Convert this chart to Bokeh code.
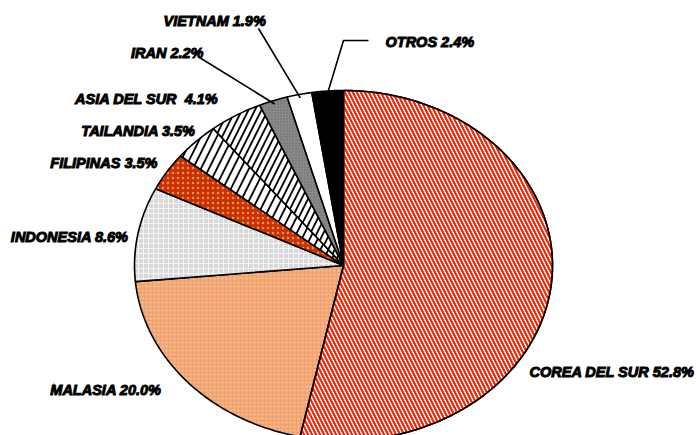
import math
from bokeh.plotting import figure
from bokeh.models import Range1d, ColumnDataSource
from bokeh.core.properties import value
from bokeh.embed import file_html
from bokeh.resources import INLINE

# ---- data ----
categories = ["COREA DEL SUR", "MALASIA", "INDONESIA", "FILIPINAS", "TAILANDIA",
              "ASIA DEL SUR", "IRAN", "VIETNAM", "OTROS"]
shares = [52.8, 20.0, 8.6, 3.5, 3.5, 4.1, 2.2, 1.9, 2.4]
label_texts = ["COREA DEL SUR 52.8%", "MALASIA 20.0%", "INDONESIA 8.6%", "FILIPINAS 3.5%",
               "TAILANDIA 3.5%", "ASIA DEL SUR \u00a04.1%", "IRAN 2.2%", "VIETNAM 1.9%", "OTROS 2.4%"]

# ---- styles ----
fills = ["white", "#efa27c", "#d8d8d8", "#cc3000", "white", "white", "#8a8a8a", "white", "black"]
hatches = ["\\", ".", "+", ".", "/", "/", ".", " ", " "]
hatch_colors = ["#ff2000", "#ffd070", "#f6f6f6", "#e89a50", "black", "black", "#666666", "white", "black"]
hatch_scales = [8, 4, 5, 5, 16, 13, 3, 8, 8]
hatch_weights = [1.8, 1.5, 1.0, 1.5, 1.8, 1.8, 1.0, 1.0, 1.0]

# label layout (pixel-like coordinates, y down)
label_x = [529, 161, 128, 157, 195, 218, 203, 163, 385]
label_y = [371, 389, 236, 162, 130, 98, 52, 20, 41]
label_align = ["left", "right", "right", "right", "right", "right", "right", "left", "left"]

W, H = 697, 435
cx, cy, rx, ry = 343, 265, 209, 175

def pt(theta_deg, r=1.0):
    t = math.radians(theta_deg)
    return cx + rx * r * math.sin(t), cy - ry * r * math.cos(t)

total = sum(shares)
xs, ys = [], []
start = 0.0
mids = []
for s in shares:
    a0 = start
    a1 = start + s / total * 360.0
    n = max(4, int((a1 - a0) / 1.0))
    px, py = [cx], [cy]
    for i in range(n + 1):
        x, y = pt(a0 + (a1 - a0) * i / n)
        px.append(x)
        py.append(y)
    xs.append(px)
    ys.append(py)
    mids.append((a0 + a1) / 2)
    start = a1

p = figure(width=W, height=H, output_backend="svg", toolbar_location=None,
           x_range=Range1d(0, W), y_range=Range1d(H, 0), min_border=0)
p.axis.visible = False
p.grid.visible = False
p.outline_line_color = None

src = ColumnDataSource(dict(xs=xs, ys=ys, fill=fills, hatch=hatches, hc=hatch_colors,
                            hs=hatch_scales, hw=hatch_weights, name=categories))

# underlay for the Corea slice: brown stripes
p.patches(xs=[xs[0]], ys=[ys[0]], fill_color="white", line_color=None,
          hatch_pattern="\\", hatch_color="#8a4a20", hatch_scale=8, hatch_weight=2.8)
p.patches(xs="xs", ys="ys", source=src, fill_color="fill", line_color="black", line_width=1.6,
          hatch_pattern="hatch", hatch_color="hc", hatch_scale="hs", hatch_weight="hw")
p.patches(xs=[xs[0]], ys=[ys[0]], fill_alpha=0, line_color="black", line_width=1.6,
          hatch_pattern="\\", hatch_color="#ff2000", hatch_scale=8, hatch_weight=1.8)

# leader lines (pie end computed from slice mid angles)
iv = categories.index("VIETNAM")
ii = categories.index("IRAN")
io = categories.index("OTROS")
vx, vy = pt(mids[iv], 0.98)
ix, iy = pt(mids[ii], 0.98)
ox, oy = pt(mids[io], 0.99)
p.multi_line(xs=[[258, vx], [199, ix], [ox, 343, 368]],
             ys=[[28, vy], [57, iy], [oy, 40, 40]],
             line_color="black", line_width=1.6)

tsrc = ColumnDataSource(dict(x=label_x, y=label_y, t=label_texts, a=label_align))
p.text(x="x", y="y", text="t", source=tsrc, text_align="a", text_baseline="middle",
       text_font=value("Liberation Sans"), text_font_style="bold italic",
       text_font_size="14.5px", text_color="black", text_outline_color="black")

open("out.html", "w").write(file_html(p, INLINE))
